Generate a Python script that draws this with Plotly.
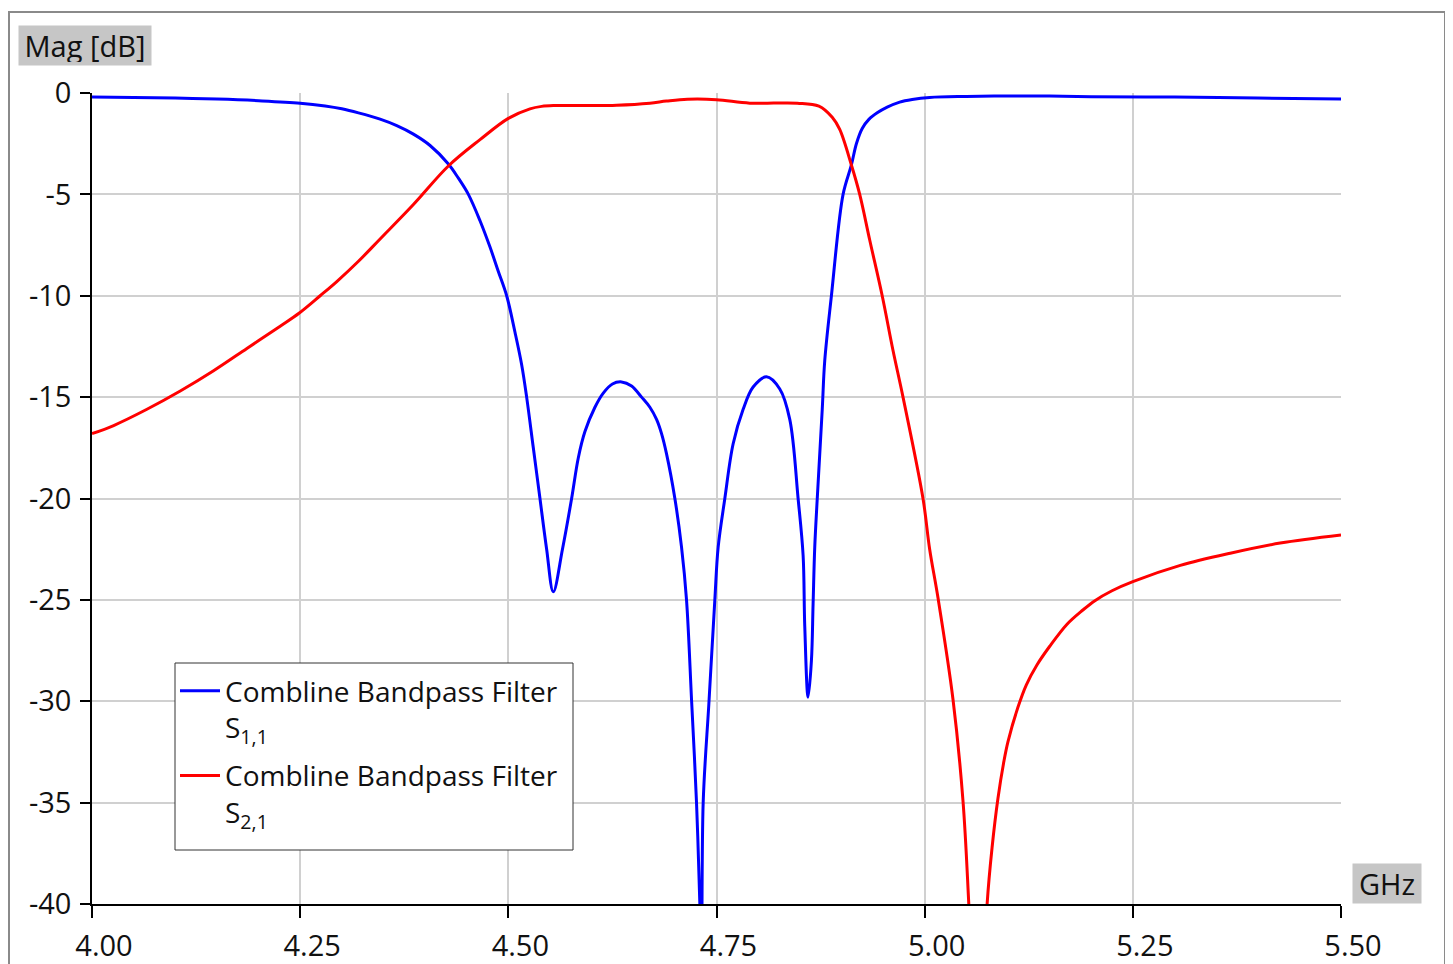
import plotly.graph_objects as go

# ---- data ----
freq_s11 = [4.00, 4.05, 4.10, 4.15, 4.20, 4.25, 4.28, 4.30, 4.32, 4.346, 4.366, 4.386, 4.406,
            4.428, 4.440, 4.452, 4.466, 4.478, 4.488, 4.498, 4.508, 4.516, 4.522, 4.530, 4.538,
            4.546, 4.554, 4.565, 4.576, 4.584, 4.592, 4.604, 4.614, 4.625, 4.636, 4.648, 4.660,
            4.670, 4.678, 4.684, 4.690, 4.700, 4.708, 4.714, 4.720, 4.726, 4.730, 4.732, 4.734,
            4.741, 4.748, 4.752, 4.760, 4.770, 4.782, 4.794, 4.810, 4.826, 4.838, 4.848, 4.854,
            4.856, 4.860, 4.864, 4.866, 4.868, 4.871, 4.877, 4.880, 4.888, 4.902, 4.912, 4.918,
            4.925, 4.933, 4.943, 4.955, 4.970, 4.985, 5.006, 5.05, 5.10, 5.15, 5.20, 5.30, 5.40,
            5.50]
s11_db = [-0.20, -0.22, -0.25, -0.30, -0.38, -0.50, -0.64, -0.78, -0.98, -1.29, -1.61, -2.03, -2.59,
          -3.5, -4.2, -5.0, -6.3, -7.6, -8.8, -10.0, -11.8, -13.4, -15.0, -17.5, -20.0,
          -22.5, -24.6, -22.5, -20.0, -18.0, -16.7, -15.5, -14.8, -14.35, -14.25, -14.45, -15.0,
          -15.5, -16.1, -16.8, -17.8, -20.0, -22.4, -25.0, -29.9, -35.0, -40.0, -43.0, -35.0,
          -30.0, -25.0, -22.4, -20.0, -17.3, -15.6, -14.5, -14.0, -14.6, -16.1, -20.0, -22.8,
          -26.3, -29.8, -28.0, -25.2, -22.4, -20.0, -15.6, -13.2, -10.0, -5.0, -3.55, -2.5,
          -1.75, -1.3, -0.98, -0.7, -0.45, -0.32, -0.22, -0.17, -0.15, -0.15, -0.18, -0.2, -0.25,
          -0.3]

freq_s21 = [4.000, 4.026, 4.066, 4.106, 4.146, 4.186, 4.226, 4.249, 4.274, 4.294, 4.320, 4.346,
            4.386, 4.428, 4.466, 4.500, 4.526, 4.540, 4.554, 4.600, 4.630, 4.670, 4.690, 4.715,
            4.750, 4.790, 4.847, 4.873, 4.889, 4.898, 4.912, 4.922, 4.934, 4.949, 4.962, 4.974,
            4.998, 5.006, 5.016, 5.034, 5.046, 5.053, 5.064, 5.075, 5.081, 5.088, 5.095, 5.100,
            5.112, 5.122, 5.135, 5.150, 5.171, 5.190, 5.204, 5.225, 5.250, 5.307, 5.367, 5.427,
            5.500]
s21_db = [-16.8, -16.4, -15.6, -14.7, -13.7, -12.6, -11.5, -10.85, -10.0, -9.3, -8.3, -7.2,
          -5.5, -3.6, -2.3, -1.25, -0.78, -0.66, -0.62, -0.62, -0.6, -0.5, -0.4, -0.31,
          -0.33, -0.5, -0.5, -0.65, -1.2, -1.8, -3.55, -5.0, -7.25, -10.0, -12.7, -15.0,
          -20.0, -22.5, -24.9, -29.9, -34.9, -40.0, -50.0, -40.0, -37.2, -34.8, -33.0, -32.0,
          -30.3, -29.2, -28.2, -27.3, -26.2, -25.5, -25.05, -24.55, -24.1, -23.3, -22.7, -22.2,
          -21.8]

series_names = ["Combline Bandpass Filter<br>S<sub>1,1</sub>",
                "Combline Bandpass Filter<br>S<sub>2,1</sub>"]
series_colors = ["#0000ff", "#ff0000"]

x_tickvals = [4.00, 4.25, 4.50, 4.75, 5.00, 5.25, 5.50]
x_ticktext = ["4.00", "4.25", "4.50", "4.75", "5.00", "5.25", "5.50"]
y_tickvals = [0, -5, -10, -15, -20, -25, -30, -35, -40]
y_ticktext = ["0", "-5", "-10", "-15", "-20", "-25", "-30", "-35", "-40"]

FONT = "Open Sans"
TXT = "#111111"

fig = go.Figure()
fig.add_trace(go.Scatter(x=freq_s11, y=s11_db, mode="lines", name=series_names[0],
                         legendgroup="s11",
                         line=dict(color=series_colors[0], width=3, shape="spline", smoothing=1.0)))
fig.add_trace(go.Scatter(x=freq_s21, y=s21_db, mode="lines", name=series_names[1],
                         legendgroup="s21",
                         line=dict(color=series_colors[1], width=3, shape="spline", smoothing=1.0)))

# page has an 8px body offset; target screen geometry of the plot area:
OFF = 8
SL, ST, SR, SB = 92, 93, 1341, 904
W, H = 1453 - OFF, 964 - OFF
L, T = SL - OFF, ST - OFF
R, B = W - (SR - OFF), H - (SB - OFF)
pw, ph = SR - SL, SB - ST

def px(xs):
    return (xs - SL) / pw

def py(ys):
    return (SB - ys) / ph

fig.update_layout(
    width=W, height=H,
    margin=dict(l=L, r=R, t=T, b=B, autoexpand=False),
    paper_bgcolor="white", plot_bgcolor="white",
    font=dict(family=FONT, size=28, color=TXT),
    showlegend=True,
    legend=dict(x=px(175), y=py(666), xanchor="left", yanchor="top",
                bgcolor="rgba(0,0,0,0)", borderwidth=0,
                font=dict(family=FONT, size=28, color=TXT),
                valign="top", traceorder="grouped", tracegroupgap=9, itemwidth=40),
    xaxis=dict(range=[4.0, 5.5], tickvals=x_tickvals, ticktext=x_ticktext,
               showgrid=True, gridcolor="#d0d0d0", gridwidth=1.5,
               showline=True, linecolor="black", linewidth=1.5,
               ticks="outside", ticklen=12, tickcolor="black", tickwidth=1.5,
               zeroline=False, automargin=False, ticklabelshift=12, ticklabelstandoff=3,
               tickfont=dict(family=FONT, size=29, color=TXT)),
    yaxis=dict(range=[-40, 0], tickvals=y_tickvals, ticktext=y_ticktext,
               showgrid=True, gridcolor="#d0d0d0", gridwidth=1.5,
               showline=True, linecolor="black", linewidth=1.5,
               ticks="outside", ticklen=10, tickcolor="black", tickwidth=1.5,
               zeroline=False, automargin=False, ticklabelstandoff=3,
               tickfont=dict(family=FONT, size=29, color=TXT)),
)

# legend frame (white box with dark border, above the curves)
fig.add_shape(type="rect", xref="paper", yref="paper",
              x0=px(175), x1=px(573), y0=py(850), y1=py(663),
              line=dict(color="#333333", width=1), fillcolor="white", layer="above")

# axis title boxes
fig.add_annotation(x=px(85), y=py(45.5), xref="paper", yref="paper", text="Mag [dB]",
                   showarrow=False, xanchor="center", yanchor="middle",
                   width=126, height=33, borderpad=3, bgcolor="#c6c6c6",
                   font=dict(family=FONT, size=29, color=TXT))
fig.add_annotation(x=px(1386.5), y=py(883.5), xref="paper", yref="paper", text="GHz",
                   showarrow=False, xanchor="center", yanchor="middle",
                   width=62, height=33, borderpad=3, bgcolor="#c6c6c6",
                   font=dict(family=FONT, size=29, color=TXT))

# outer frame
fig.add_shape(type="rect", xref="paper", yref="paper",
              x0=px(9), x1=px(1445), y0=py(990), y1=py(12),
              line=dict(color="#8a8a8a", width=2), fillcolor="rgba(0,0,0,0)", layer="below")

fig.write_html("out.html")
